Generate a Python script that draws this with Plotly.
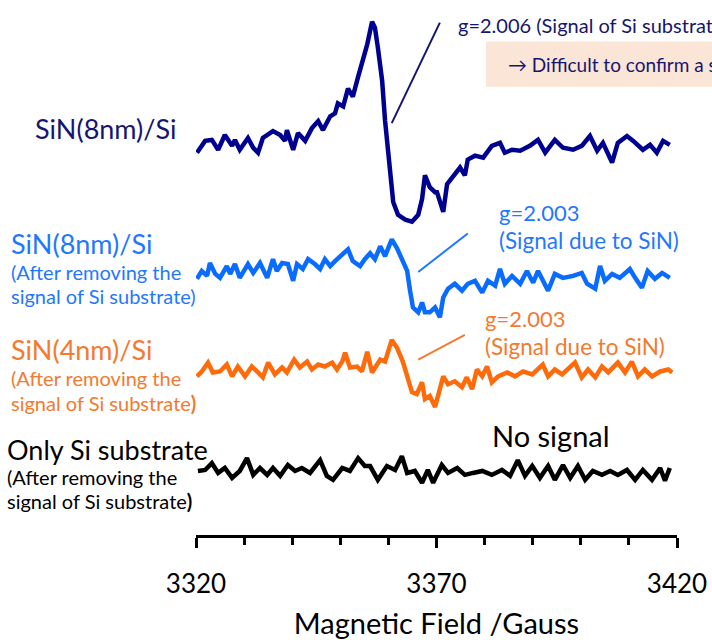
import plotly.graph_objects as go

# ---------------- data (field in Gauss, intensity in arbitrary units) ----------------
navy_field = [3320.2, 3321.9, 3323.3, 3324.6, 3326.0, 3327.5, 3328.1, 3329.1, 3330.8, 3331.9,
              3332.9, 3333.9, 3336.0, 3337.5, 3338.5, 3338.9, 3340.2, 3341.2, 3342.7, 3344.1,
              3345.4, 3346.4, 3347.9, 3348.9, 3349.5, 3350.6, 3351.6, 3352.6, 3353.7, 3354.5,
              3355.6, 3356.6, 3357.2, 3357.8, 3358.7, 3359.3, 3359.9, 3360.3, 3361.0, 3362.0,
              3363.5, 3364.9, 3366.2, 3367.0, 3367.6, 3368.6, 3369.7, 3370.1, 3371.4, 3372.2,
              3373.4, 3374.9, 3375.9, 3376.5, 3378.0, 3379.7, 3381.5, 3383.2, 3384.2, 3385.7,
              3387.4, 3389.4, 3391.1, 3392.6, 3394.6, 3396.3, 3398.4, 3400.2, 3401.9, 3403.4,
              3404.6, 3406.5, 3407.7, 3409.6, 3410.9, 3412.9, 3414.4, 3415.8, 3417.1, 3418.5]
navy_signal = [-7, 5, 6, -4, 11, 0, 6, -4, 8, -2,
               -7, 8, 15, 11, 5, 16, -4, 13, 5, 18,
               25, 16, 30, 33, 43, 40, 58, 50, 70, 83,
               103, 126, 120, 100, 66, 26, -7, -30, -57, -70,
               -75, -77, -70, -54, -30, -42, -47, -47, -67, -39,
               -32, -22, -30, -14, -10, -12, 0, 3, -7, -4,
               -5, 0, 6, -7, 6, -2, -4, 0, 10, -5,
               3, -17, 3, 10, 5, -4, 1, -7, 5, 1]

blue_field = [3320.2, 3321.2, 3322.3, 3322.9, 3324.0, 3325.0, 3326.4, 3327.1, 3328.1, 3329.1,
              3330.8, 3331.9, 3333.3, 3334.8, 3336.0, 3336.8, 3337.9, 3339.1, 3340.2, 3341.0,
              3342.2, 3343.3, 3344.7, 3345.8, 3346.8, 3347.9, 3348.9, 3350.4, 3351.6, 3352.6,
              3354.1, 3355.1, 3356.2, 3357.2, 3358.3, 3359.3, 3359.9, 3360.7, 3361.8, 3362.8,
              3363.9, 3364.5, 3365.1, 3366.2, 3367.0, 3367.6, 3368.6, 3369.7, 3370.7, 3371.4,
              3372.4, 3373.8, 3375.3, 3376.5, 3378.0, 3379.5, 3380.7, 3382.2, 3383.2, 3384.2,
              3385.7, 3387.4, 3388.8, 3390.1, 3391.1, 3393.2, 3394.6, 3396.3, 3398.4, 3400.2,
              3401.3, 3403.0, 3404.0, 3405.0, 3406.5, 3408.1, 3410.2, 3411.3, 3412.7, 3413.9,
              3415.4, 3416.9, 3418.5]
blue_signal = [-10, -2, -7, 6, -5, -9, 3, -5, 5, -9,
               5, -4, 6, -9, 10, -2, 6, 5, -12, 5,
               0, 10, 5, 0, 10, 3, 8, 15, 20, 8,
               3, 10, 16, 10, 23, 13, 20, 30, 21, 11,
               -2, -22, -39, -44, -34, -44, -44, -39, -49, -29,
               -20, -15, -22, -15, -12, -24, -12, -17, 0, -15,
               -7, -15, -2, -14, -2, -22, -5, -9, -7, -4,
               -15, -20, 3, -12, -5, -9, 0, -9, -19, -2,
               -10, -4, -9]

orange_field = [3320.2, 3321.2, 3322.5, 3323.5, 3325.0, 3326.4, 3327.5, 3328.7, 3330.2, 3331.6,
                3332.9, 3333.9, 3335.0, 3336.4, 3337.9, 3338.9, 3340.4, 3341.6, 3343.1, 3344.1,
                3345.4, 3346.8, 3348.3, 3349.3, 3350.4, 3351.0, 3352.0, 3353.5, 3354.5, 3355.6,
                3356.6, 3357.6, 3358.3, 3359.3, 3360.7, 3361.8, 3362.4, 3363.0, 3364.1, 3364.9,
                3365.9, 3367.0, 3367.6, 3368.6, 3369.7, 3370.7, 3371.4, 3372.4, 3373.8, 3375.3,
                3376.3, 3377.4, 3378.4, 3379.5, 3380.5, 3381.5, 3382.8, 3384.7, 3386.3, 3388.0,
                3389.9, 3392.1, 3393.2, 3394.6, 3396.1, 3398.8, 3400.2, 3401.5, 3403.0, 3404.4,
                3405.7, 3407.7, 3409.2, 3410.6, 3411.9, 3413.3, 3414.8, 3416.5, 3418.2, 3419.0]
orange_signal = [-4, 1, 10, 0, 1, 8, -4, 6, -4, 6,
                 0, -5, 10, -2, 5, 0, 13, 5, 11, 3,
                 8, 6, 10, 3, 11, 20, 5, 6, 1, 21,
                 0, 8, 13, 11, 33, 25, 18, 11, -7, -20,
                 -22, -10, -27, -24, -35, -19, -4, -12, -9, -15,
                 -5, -17, 3, -4, 6, -10, -4, 0, -4, 1,
                 -2, 8, -4, 3, -2, 10, -5, 3, -5, 6,
                 0, 10, 0, 11, -4, 3, -4, 1, 3, 0]

black_field = [3320.4, 3321.9, 3323.3, 3324.6, 3326.0, 3327.5, 3329.1, 3330.6, 3331.9, 3333.3,
               3334.8, 3336.0, 3337.5, 3339.1, 3340.6, 3342.0, 3343.7, 3345.8, 3347.2, 3348.5,
               3350.4, 3352.0, 3353.7, 3355.1, 3356.2, 3357.8, 3359.7, 3361.4, 3362.8, 3363.9,
               3365.5, 3367.0, 3368.2, 3369.3, 3371.1, 3372.4, 3374.3, 3375.9, 3377.6, 3379.5,
               3381.5, 3383.6, 3385.3, 3386.9, 3388.4, 3389.9, 3391.5, 3393.2, 3394.6, 3396.3,
               3397.8, 3399.4, 3400.9, 3402.5, 3404.4, 3406.1, 3407.7, 3409.6, 3411.3, 3412.9,
               3414.8, 3416.5, 3417.5, 3418.5]
black_signal = [0, 1, 8, -2, 3, -7, 0, 13, -4, 3,
                -4, 3, -5, 6, 0, 3, -2, 11, -5, -9,
                3, 0, 13, 5, 5, -9, 5, 1, 15, -2,
                0, -12, 1, -12, 6, -2, 3, -4, -2, 0,
                -4, 1, -5, 11, -5, 5, -7, 5, -9, 6,
                -7, 5, -9, 0, -4, 0, -4, 1, -9, 1,
                -9, 3, -10, 3]

series_names = ["SiN(8nm)/Si", "SiN(8nm)/Si (corrected)", "SiN(4nm)/Si (corrected)", "Only Si substrate"]
series_offsets = [395, 270, 165, 65]
series_colors = ["#000090", "#0a6cff", "#ff6a0a", "#000000"]

tick_values = [3320, 3370, 3420]
tick_labels = ["3320", "3370", "3420"]
x_title = "Magnetic Field /Gauss"

FONT = "Lato"
NAVY_TXT = "#16166e"
BLUE_TXT = "#1f78ff"
ORANGE_TXT = "#f37a2e"

fig = go.Figure()
fields = [navy_field, blue_field, orange_field, black_field]
signals = [navy_signal, blue_signal, orange_signal, black_signal]
for name, f, s, off, col in zip(series_names, fields, signals, series_offsets, series_colors):
    fig.add_trace(go.Scatter(x=f, y=[v + off for v in s], mode="lines", name=name,
                             line=dict(color=col, width=4.5), showlegend=False,
                             hoverinfo="skip"))

# leader lines
fig.add_shape(type="line", x0=3360.7, y0=418, x1=3370.7, y1=520, line=dict(color=NAVY_TXT, width=2))
fig.add_shape(type="line", x0=3366.2, y0=267, x1=3376.5, y1=306, line=dict(color="#1f78ff", width=2))
fig.add_shape(type="line", x0=3366.2, y0=178, x1=3375.9, y1=203, line=dict(color="#f37a2e", width=2))

# peach box
fig.add_shape(type="rect", xref="paper", yref="y", x0=0.603, x1=1.2, y0=455, y1=501,
              fillcolor="#fbe5d6", line=dict(width=0), layer="below")

def label(x, y, text, color, size, xref="x"):
    fig.add_annotation(x=x, y=y, xref=xref, text=text, showarrow=False, xanchor="left",
                       yanchor="middle", font=dict(family=FONT, size=size, color=color))

# left-side series labels (paper x: fraction of plot width, negative = left of axis)
label(-0.338, 413, "SiN(8nm)/Si", NAVY_TXT, 27, "paper")
label(-0.388, 296, "SiN(8nm)/Si", BLUE_TXT, 27, "paper")
label(-0.388, 267, "(After removing the", BLUE_TXT, 20, "paper")
label(-0.388, 243, "signal of Si substrate)", BLUE_TXT, 20, "paper")
label(-0.388, 188, "SiN(4nm)/Si", ORANGE_TXT, 27, "paper")
label(-0.388, 159, "(After removing the", ORANGE_TXT, 20, "paper")
label(-0.388, 134, "signal of Si substrate<b>)</b>", ORANGE_TXT, 20, "paper")
label(-0.397, 87, "Only Si substrate", "#000000", 27, "paper")
label(-0.397, 59, "(After removing the", "#000000", 20, "paper")
label(-0.397, 35, "signal of Si substrate<b>)</b>", "#000000", 20, "paper")

label(3381.1, 101, "No signal", "#000000", 29)
label(3374.0, 518, "g=2.006 (Signal of Si substrate)", NAVY_TXT, 20)
label(3384.5, 478, "\u2192 Difficult to confirm a signal", NAVY_TXT, 19)
label(3382.6, 327, "g=2.003", BLUE_TXT, 22)
label(3382.6, 299, "(Signal due to SiN)", BLUE_TXT, 22.5)
label(3379.6, 220, "g=2.003", ORANGE_TXT, 22)
label(3379.6, 191, "(Signal due to SiN)", ORANGE_TXT, 22.5)

fig.update_xaxes(range=[3320, 3420], showline=True, linecolor="#000000", linewidth=3,
                 ticks="outside", tickvals=tick_values, ticktext=tick_labels, ticklen=10,
                 tickwidth=3, tickcolor="#000000", showgrid=False, zeroline=False,
                 tickfont=dict(family=FONT, size=26, color="#000000"),
                 ticklabelstandoff=14,
                 minor=dict(dtick=10, tick0=3320, ticks="outside", ticklen=7, tickwidth=2.5,
                            tickcolor="#000000", showgrid=False),
                 title=dict(text=x_title, font=dict(family=FONT, size=29, color="#000000"),
                            standoff=20))
fig.update_yaxes(range=[0, 543], visible=False)

fig.update_layout(width=712, height=640, margin=dict(l=196, r=35, t=0, b=97),
                  paper_bgcolor="#ffffff", plot_bgcolor="#ffffff",
                  font=dict(family=FONT))

# remove the browser's default 8 px body margin so the figure fills the window exactly
fig.write_html("out.html", config={"displayModeBar": False},
               post_script="document.body.style.margin='0';document.body.style.overflow='hidden';")
